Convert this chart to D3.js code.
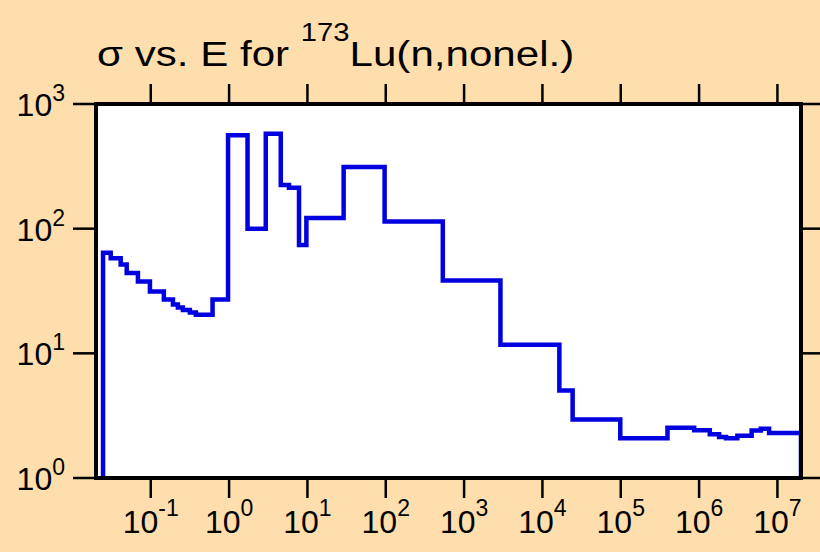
<!DOCTYPE html>
<html>
<head>
<meta charset="utf-8">
<script src="https://cdn.jsdelivr.net/npm/d3@7"></script>
<style>
  html, body { margin: 0; padding: 0; background: #FFDEAD; }
  svg { display: block; font-family: "Liberation Sans", Arial, sans-serif; }
</style>
</head>
<body>
<svg id="chart" width="820" height="552"></svg>
<script>
// Group boundaries (eV) and cross sections (b) for 173Lu(n,nonel.)
const energyEdges = [0.0246, 0.0308, 0.0413, 0.0493, 0.0686, 0.0976, 0.147, 0.192, 0.222,
  0.257, 0.316, 0.377, 0.615, 0.97, 1.72, 2.94, 4.57, 5.82, 7.81, 9.70, 29.0, 96.7, 535,
  2912, 16450, 24300, 98600, 395000, 866000, 1.37e6, 1.8e6, 2.21e6, 3.08e6, 4.69e6,
  6.14e6, 7.83e6, 2e7];
const sigma = [64, 58, 51.5, 44, 37.7, 31.3, 27, 24.7, 23.3, 22.3, 21.3, 20.4, 27, 562,
  100, 578, 224, 213, 74, 122, 313, 114, 38.4, 11.7, 5.03, 2.95, 2.08, 2.53, 2.42, 2.24,
  2.13, 2.08, 2.18, 2.41, 2.48, 2.30];

const xTickExp = [-1, 0, 1, 2, 3, 4, 5, 6, 7];
const yTickExp = [0, 1, 2, 3];
const xDomain = [0.02, 2e7];
const yDomain = [1, 1000];

const titleMain = "σ vs. E for ";
const titleSup = "173";
const titleRest = "Lu(n,nonel.)";

const plotL = 96, plotR = 801, plotT = 104, plotB = 478;

const svg = d3.select("#chart");
const x = d3.scaleLog().domain(xDomain).range([plotL, plotR]);
const y = d3.scaleLog().domain(yDomain).range([plotB, plotT]);

// plot area
svg.append("rect")
  .attr("x", plotL).attr("y", plotT)
  .attr("width", plotR - plotL).attr("height", plotB - plotT)
  .attr("fill", "#ffffff");

svg.append("defs").append("clipPath").attr("id", "plotClip")
  .append("rect")
  .attr("x", plotL).attr("y", plotT)
  .attr("width", plotR - plotL).attr("height", plotB - plotT);

// stepped histogram
const pts = [[energyEdges[0], yDomain[0]]];
sigma.forEach((s, i) => {
  pts.push([energyEdges[i], s]);
  pts.push([energyEdges[i + 1], s]);
});
pts.push([energyEdges[energyEdges.length - 1], yDomain[0]]);

const line = d3.line().x(d => x(d[0])).y(d => y(d[1]));
svg.append("path")
  .attr("clip-path", "url(#plotClip)")
  .attr("d", line(pts))
  .attr("fill", "none")
  .attr("stroke", "#0000e0")
  .attr("stroke-width", 4.5)
  .attr("stroke-linejoin", "miter");

// ticks outside the frame on all four sides
const tickLen = 20;
const xt = xTickExp.map(e => Math.pow(10, e));
const yt = yTickExp.map(e => Math.pow(10, e));
const tg = svg.append("g").attr("stroke", "#000").attr("stroke-width", 2.5);
xt.forEach(v => {
  tg.append("line").attr("x1", x(v)).attr("x2", x(v)).attr("y1", plotT).attr("y2", plotT - tickLen);
  tg.append("line").attr("x1", x(v)).attr("x2", x(v)).attr("y1", plotB).attr("y2", plotB + tickLen);
});
yt.forEach(v => {
  tg.append("line").attr("y1", y(v)).attr("y2", y(v)).attr("x1", plotL).attr("x2", plotL - 23);
  tg.append("line").attr("y1", y(v)).attr("y2", y(v)).attr("x1", plotR).attr("x2", plotR + 25);
});

// frame
svg.append("rect")
  .attr("x", plotL).attr("y", plotT)
  .attr("width", plotR - plotL).attr("height", plotB - plotT)
  .attr("fill", "none").attr("stroke", "#000").attr("stroke-width", 4);

// tick labels
function powerLabel(g, e, px, py, anchor, supRise) {
  const t = g.append("text")
    .attr("x", px).attr("y", py)
    .attr("text-anchor", anchor)
    .attr("font-size", 32)
    .attr("fill", "#000");
  t.append("tspan").text("10");
  t.append("tspan").attr("dy", -supRise).attr("font-size", 23).text(String(e));
}
const lg = svg.append("g");
xTickExp.forEach(e => powerLabel(lg, e, x(Math.pow(10, e)), 533, "middle", 17));
yTickExp.forEach(e => powerLabel(lg, e, 65, y(Math.pow(10, e)) + 12, "end", 15));

// title (set in a slightly widened face)
const title = svg.append("text")
  .attr("transform", "translate(97,66) scale(1.17,1)")
  .attr("font-size", 36)
  .attr("fill", "#000");
title.append("tspan").text(titleMain);
title.append("tspan").attr("dy", -25).attr("font-size", 25).text(titleSup);
title.append("tspan").attr("dy", 25).text(titleRest);
</script>
</body>
</html>
